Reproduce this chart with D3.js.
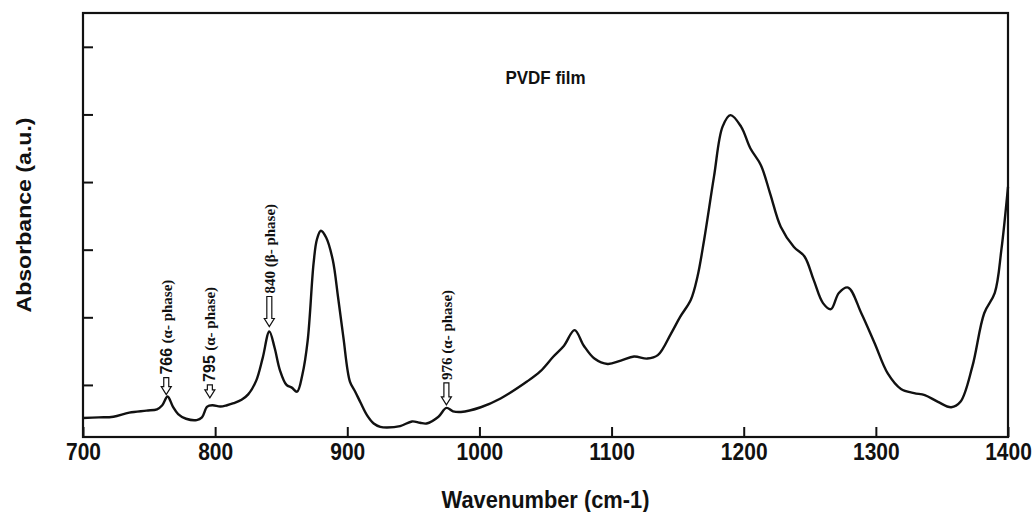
<!DOCTYPE html>
<html>
<head>
<meta charset="utf-8">
<script src="https://cdn.jsdelivr.net/npm/d3@7/dist/d3.min.js"></script>
<style>
  body { margin: 0; background: #fff; }
  .tick text { font-family: "Liberation Sans", Arial, sans-serif; font-weight: bold; font-size: 21px; fill: #111; }
  .axis-title { font-family: "Liberation Sans", Arial, sans-serif; font-weight: bold; font-size: 21px; fill: #111; }
  .ann { font-family: "Liberation Serif", "Times New Roman", serif; font-weight: bold; font-size: 15px; fill: #111; }
</style>
</head>
<body>
<div id="chart"></div>
<script>
// spectrum: wavenumber (cm-1) and absorbance (a.u.)
const wavenumber = [700, 712, 723, 735, 748, 756, 760, 764, 768, 772, 778, 786, 790, 794, 798, 804, 809, 814, 820, 825,
  831, 836, 841, 845, 849, 854, 858, 862, 866, 870, 874.5, 877, 880, 884, 889, 893, 897, 902, 906, 910,
  915, 920, 925, 930, 940, 949, 955, 960, 969, 975, 980, 986, 1001, 1016, 1036, 1046, 1056, 1064, 1072, 1079,
  1087, 1097, 1107, 1117, 1127, 1135, 1145, 1152, 1160, 1165, 1170, 1177.5, 1184, 1190, 1198, 1205, 1213, 1220, 1228, 1238,
  1246, 1253, 1260, 1266, 1272, 1279, 1289, 1299, 1309, 1319, 1329, 1337, 1347, 1357, 1364, 1373, 1382, 1390, 1395, 1400];
const absorbance = [0.51, 0.52, 0.53, 0.59, 0.62, 0.64, 0.70, 0.83, 0.68, 0.57, 0.50, 0.48, 0.52, 0.68, 0.70, 0.68, 0.70, 0.73, 0.78, 0.86,
  1.06, 1.40, 1.79, 1.55, 1.22, 1.00, 0.96, 0.90, 1.15, 1.65, 2.80, 3.15, 3.28, 3.18, 2.85, 2.30, 1.71, 1.05, 0.90, 0.74,
  0.55, 0.43, 0.38, 0.37, 0.39, 0.46, 0.44, 0.43, 0.53, 0.66, 0.61, 0.60, 0.67, 0.80, 1.05, 1.20, 1.42, 1.58, 1.81, 1.58,
  1.39, 1.31, 1.36, 1.42, 1.39, 1.44, 1.76, 2.01, 2.26, 2.60, 3.14, 4.08, 4.82, 4.99, 4.82, 4.50, 4.25, 3.83, 3.34, 3.04,
  2.90, 2.55, 2.21, 2.12, 2.36, 2.44, 2.06, 1.62, 1.17, 0.94, 0.88, 0.85, 0.75, 0.67, 0.75, 1.27, 2.06, 2.36, 3.00, 3.93];

const xTicks = [700, 800, 900, 1000, 1100, 1200, 1300, 1400];
const yTicks = [1, 2, 3, 4, 5, 6];

// peak annotations
const annNumber = ["766", "795", "840", "976"];
const annPhase = ["(\u03b1- phase)", "(\u03b1- phase)", "(\u03b2- phase)", "(\u03b1- phase)"];
const annAt = [763, 796, 841, 975];

const arrowLen = [17, 13, 30, 22];
const arrowGap = [4, 8, 5, 3];
const sansNumber = [true, true, false, false];

const margin = { top: 13, right: 27, bottom: 75, left: 83 };
const width = 1035 - margin.left - margin.right;
const height = 512 - margin.top - margin.bottom;

const svg = d3.select("#chart")
  .append("svg")
  .attr("width", 1035)
  .attr("height", 512)
  .append("g")
  .attr("transform", `translate(${margin.left}, ${margin.top})`);

const xScale = d3.scaleLinear().domain([700, 1400]).range([0, width]);
const yScale = d3.scaleLinear().domain([0.23, 6.5]).range([height, 0]);

// axes with inward ticks
svg.append("g")
  .attr("transform", `translate(0, ${height})`)
  .call(d3.axisBottom(xScale).tickValues(xTicks).tickSizeInner(-10).tickSizeOuter(0).tickPadding(6).tickFormat(d3.format("d")))
  .call(g => g.select(".domain").remove())
  .call(g => g.selectAll(".tick line").attr("stroke", "#111").attr("stroke-width", 2))
  .call(g => g.selectAll(".tick text").attr("transform", "scale(1, 1.1)"));

svg.append("g")
  .call(d3.axisLeft(yScale).tickValues(yTicks).tickSizeInner(-10).tickSizeOuter(0).tickFormat(""))
  .call(g => g.select(".domain").remove())
  .call(g => g.selectAll(".tick line").attr("stroke", "#111").attr("stroke-width", 2));

// frame
svg.append("rect")
  .attr("width", width)
  .attr("height", height)
  .attr("fill", "none")
  .attr("stroke", "#111")
  .attr("stroke-width", 2.2);

// spectrum
const data = wavenumber.map((w, i) => ({ w: w, a: absorbance[i] }));
svg.append("path")
  .datum(data)
  .attr("fill", "none")
  .attr("stroke", "#111")
  .attr("stroke-width", 2.4)
  .attr("stroke-linejoin", "round")
  .attr("d", d3.line()
    .curve(d3.curveCatmullRom.alpha(0.5))
    .x(d => xScale(d.w))
    .y(d => yScale(d.a)));

// value of the curve at a wavenumber
const bis = d3.bisector(d => d.w).left;
function curveAt(w) {
  const i = Math.max(1, bis(data, w));
  const a = data[i - 1], b = data[i];
  const t = (w - a.w) / (b.w - a.w);
  return a.a + t * (b.a - a.a);
}

// hollow arrows + rotated labels
annNumber.forEach((num, i) => {
  const x = xScale(annAt[i]);
  const tip = yScale(curveAt(annAt[i])) - arrowGap[i];
  const top = tip - arrowLen[i];
  const hw = 2.5, hh = 5, headLen = 8;
  svg.append("path")
    .attr("d", `M${x - hw},${top} L${x + hw},${top} L${x + hw},${tip - headLen} L${x + hh},${tip - headLen}
      L${x},${tip} L${x - hh},${tip - headLen} L${x - hw},${tip - headLen} Z`)
    .attr("fill", "#fff")
    .attr("stroke", "#111")
    .attr("stroke-width", 1.2);

  const t = svg.append("text")
    .attr("class", "ann")
    .attr("transform", `translate(${x}, ${top - 3}) rotate(-90)`)
    .attr("dy", "0.35em");
  t.append("tspan")
    .style("font-family", sansNumber[i] ? "'Liberation Sans', Arial, sans-serif" : null)
    .style("font-size", sansNumber[i] ? "16px" : null)
    .text(num + " ");
  t.append("tspan").text(annPhase[i]);
});

// titles
svg.append("text")
  .attr("class", "axis-title")
  .attr("transform", `translate(${width / 2}, ${height + 71}) scale(1.04, 1.1)`)
  .attr("text-anchor", "middle")
  .text("Wavenumber (cm-1)");

svg.append("text")
  .attr("class", "axis-title")
  .attr("transform", `translate(${-52}, ${height / 2 - 10}) rotate(-90) scale(1.1, 1)`)
  .attr("text-anchor", "middle")
  .text("Absorbance (a.u.)");

svg.append("text")
  .attr("class", "axis-title")
  .attr("transform", `translate(${xScale(1050)}, 71) scale(1, 1.1)`)
  .attr("text-anchor", "middle")
  .style("font-size", "17px")
  .text("PVDF film");
</script>
</body>
</html>
